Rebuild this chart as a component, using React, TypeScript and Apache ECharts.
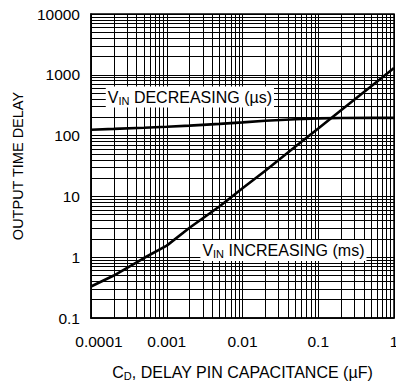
import React, { useEffect, useRef } from "react";
import * as echarts from "echarts";

// Axis ranges and tick labels
const xMin = 0.0001;
const xMax = 1;
const yMin = 0.1;
const yMax = 10000;
const xTickLabels = ["0.0001", "0.001", "0.01", "0.1", "1"];
const yTickLabels = ["0.1", "1", "10", "100", "1000", "10000"];

// V_IN decreasing (µs)
const decCap = [0.0001, 0.0002, 0.0005, 0.001, 0.002, 0.005, 0.01, 0.02, 0.05, 0.1, 0.2, 0.5, 1];
const decDelay = [125, 129, 135, 140, 146, 156, 165, 175, 186, 192, 195, 196, 196];

// V_IN increasing (ms)
const incCap = [0.0001, 0.0002, 0.0005, 0.001, 0.002, 0.005, 0.01, 0.02, 0.05, 0.1, 0.2, 0.5, 1];
const incDelay = [0.33, 0.5, 0.97, 1.55, 3.05, 6.9, 13.6, 26.5, 66, 131, 262, 650, 1290];

// Annotation anchors (data space)
const decLabelAnchor = [0.00202, 430];
const incLabelAnchor = [0.0347, 1.29];

const FONT = "Liberation Sans, Arial, sans-serif";

function gridValues(min: number, max: number): number[] {
  const out: number[] = [];
  const lo = Math.round(Math.log10(min));
  const hi = Math.round(Math.log10(max));
  for (let e = lo; e < hi; e++) {
    const d = Math.pow(10, e);
    for (let m = 1; m <= 9; m++) out.push(+(m * d).toPrecision(6));
  }
  out.push(max);
  return out;
}

function labelFor(value: number, labels: string[], minExp: number) {
  const idx = Math.round(Math.log10(value)) - minExp;
  return labels[idx] ?? "";
}

const richMain = { fontSize: 16, fontFamily: FONT, color: "#000", lineHeight: 18 };
const richSub = { fontSize: 11, fontFamily: FONT, color: "#000", lineHeight: 11, verticalAlign: "bottom" };

export default function App() {
  const ref = useRef<HTMLDivElement>(null);
  useEffect(() => {
    if (!ref.current) return;
    const chart = echarts.init(ref.current, null, { renderer: "svg" });
    const xg = gridValues(xMin, xMax);
    const yg = gridValues(yMin, yMax);
    const gridLines = [
      ...xg.map((v) => ({ coords: [[v, yMin], [v, yMax]] })),
      ...yg.map((v) => ({ coords: [[xMin, v], [xMax, v]] })),
    ];
    chart.setOption({
      animation: false,
      grid: {
        left: 91,
        right: 2,
        top: 14,
        bottom: 70,
        containLabel: false,
        outerBoundsMode: "none",
        show: true,
        borderColor: "#000",
        borderWidth: 1.5,
        backgroundColor: "#fff",
      },
      xAxis: {
        type: "log",
        logBase: 10,
        min: xMin,
        max: xMax,
        splitLine: { show: false },
        axisTick: { show: false },
        axisLine: { show: true, lineStyle: { color: "#000", width: 1.5 } },
        axisLabel: {
          color: "#000",
          fontSize: 15.5,
          fontFamily: FONT,
          margin: 15,
          alignMaxLabel: "center",
          formatter: (v: number) => {
            const s = labelFor(v, xTickLabels, -4);
            return v < 0.0005 ? "{f|" + s + "}" : s;
          },
          rich: { f: { fontSize: 15.5, fontFamily: FONT, color: "#000", padding: [0, 0, 0, 16] } },
        },
        name: "{m|C}{s|D}{m|, DELAY PIN CAPACITANCE (µF)}",
        nameLocation: "middle",
        nameGap: 45,
        nameTextStyle: { rich: { m: richMain, s: richSub } },
      },
      yAxis: {
        type: "log",
        logBase: 10,
        min: yMin,
        max: yMax,
        splitLine: { show: false },
        axisTick: { show: false },
        axisLine: { show: true, lineStyle: { color: "#000", width: 1.5 } },
        axisLabel: {
          color: "#000",
          fontSize: 15.5,
          fontFamily: FONT,
          margin: 11,
          formatter: (v: number) => labelFor(v, yTickLabels, -1),
        },
        name: "OUTPUT TIME DELAY",
        nameLocation: "middle",
        nameGap: 54,
        nameTextStyle: { color: "#000", fontSize: 14.5, fontFamily: FONT },
      },
      series: [
        {
          type: "lines",
          coordinateSystem: "cartesian2d",
          silent: true,
          z: 1,
          lineStyle: { color: "#000", width: 1, opacity: 1 },
          data: gridLines,
        },
        {
          type: "line",
          z: 3,
          symbol: "none",
          lineStyle: { color: "#000", width: 2.6 },
          data: decCap.map((c, i) => [c, decDelay[i]]),
          markPoint: {
            symbol: "rect",
            symbolSize: 1,
            itemStyle: { color: "rgba(0,0,0,0)" },
            label: {
              show: true,
              position: "inside",
              backgroundColor: "#fff",
              padding: [2, 2, 1, 2],
              formatter: "{m|V}{s|IN}{m| DECREASING (µs)}",
              rich: { m: richMain, s: richSub },
            },
            data: [{ coord: decLabelAnchor }],
          },
        },
        {
          type: "line",
          z: 3,
          symbol: "none",
          lineStyle: { color: "#000", width: 2.6 },
          data: incCap.map((c, i) => [c, incDelay[i]]),
          markPoint: {
            symbol: "rect",
            symbolSize: 1,
            itemStyle: { color: "rgba(0,0,0,0)" },
            label: {
              show: true,
              position: "inside",
              backgroundColor: "#fff",
              padding: [2, 2, 1, 2],
              formatter: "{m|V}{s|IN}{m| INCREASING (ms)}",
              rich: { m: richMain, s: richSub },
            },
            data: [{ coord: incLabelAnchor }],
          },
        },
      ],
    });
    return () => chart.dispose();
  }, []);
  return <div ref={ref} style={{ width: 396, height: 388, position: "absolute", left: 0, top: 0 }} />;
}
